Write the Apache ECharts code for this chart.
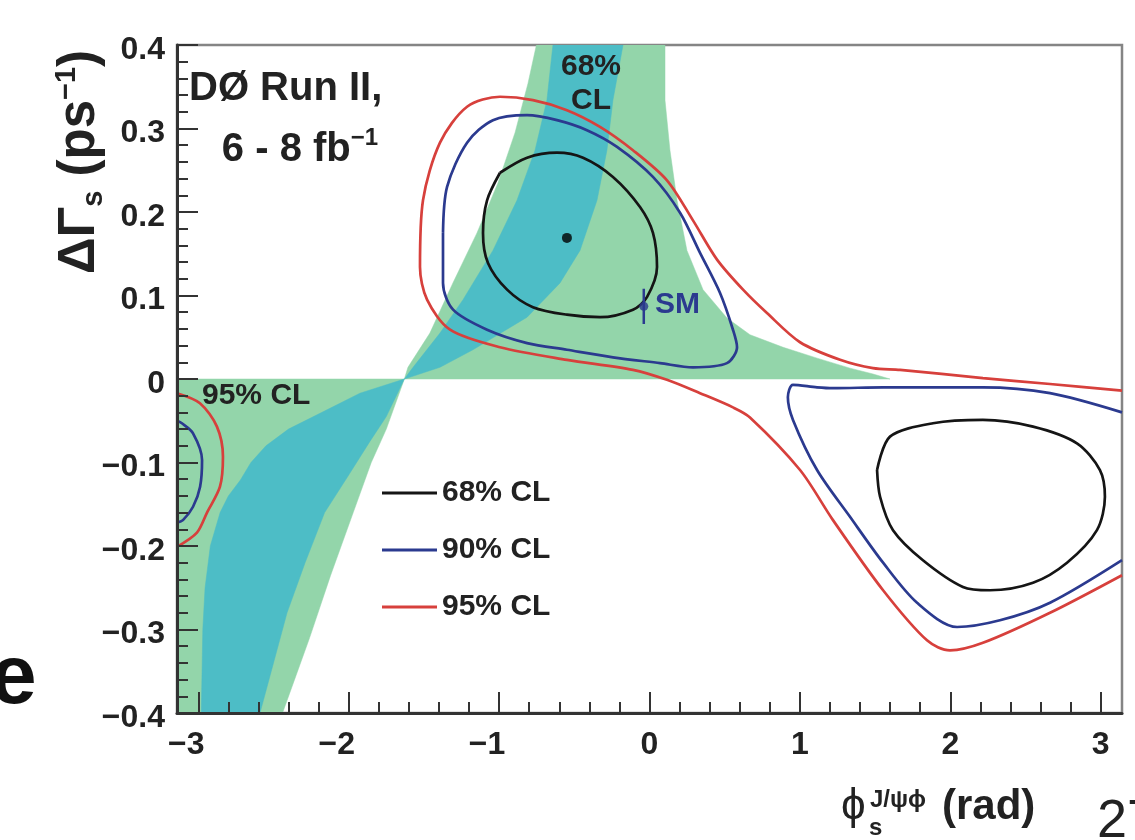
<!DOCTYPE html>
<html>
<head>
<meta charset="utf-8">
<script src="https://cdn.jsdelivr.net/npm/echarts@6/dist/echarts.min.js"></script>
<style>
html,body{margin:0;padding:0;background:#fff;}
#chart{width:1135px;height:840px;}
</style>
</head>
<body>
<div id="chart"></div>
<script>
// ---- tick labels ----
const phiTicks = [-3, -2, -1, 0, 1, 2, 3];
const phiMinorTicks = [-2.8,-2.6,-2.4,-2.2,-1.8,-1.6,-1.4,-1.2,-0.8,-0.6,-0.4,-0.2,0.2,0.4,0.6,0.8,1.2,1.4,1.6,1.8,2.2,2.4,2.6,2.8];
const legendNames = ['68% CL', '90% CL', '95% CL'];

// ---- allowed bands (phi_s, dGamma_s) ----
const greenUpper = [[-1.63,0],[-1.606,0.014],[-1.460,0.055],[-1.307,0.115],[-1.147,0.175],[-1.007,0.235],[-0.894,0.295],[-0.808,0.354],[-0.752,0.4],
  [0.103,0.4],[0.103,0.334],[0.136,0.274],[0.183,0.214],[0.249,0.154],[0.356,0.107],[0.515,0.073],[0.668,0.053],[0.888,0.038],[1.114,0.025],[1.333,0.013],[1.486,0.006],[1.599,0]];
const tealUpper = [[-1.63,0],[-1.572,0.014],[-1.393,0.055],[-1.240,0.095],[-1.041,0.154],[-0.881,0.214],[-0.761,0.274],[-0.682,0.334],[-0.642,0.4],
  [-0.176,0.4],[-0.243,0.334],[-0.283,0.274],[-0.349,0.214],[-0.462,0.154],[-0.595,0.115],[-0.814,0.074],[-1.174,0.035],[-1.393,0.014]];
const greenLower = [[-3.1416,0],[-1.63,0],[-1.75,-0.06],[-1.85,-0.10],[-1.97,-0.16],[-2.12,-0.235],[-2.26,-0.31],[-2.35,-0.355],[-2.44,-0.4],[-3.1416,-0.4]];
const tealLower = [[-1.63,0],[-1.75,-0.045],[-1.86,-0.075],[-2.0,-0.115],[-2.16,-0.16],[-2.29,-0.22],[-2.41,-0.28],[-2.50,-0.34],[-2.59,-0.4],
  [-2.98,-0.4],[-2.97,-0.3],[-2.955,-0.25],[-2.92,-0.2],[-2.855,-0.16],[-2.80,-0.14],[-2.72,-0.121],[-2.65,-0.10],[-2.55,-0.08],[-2.40,-0.06],[-2.19,-0.041],[-1.925,-0.017]];

// ---- likelihood contours ----
const cl68a = [[-0.994,0.247],[-1.080,0.214],[-1.107,0.175],[-1.074,0.139],[-0.947,0.107],[-0.775,0.086],[-0.549,0.077],[-0.329,0.074],[-0.110,0.083],[-0.017,0.098],[0.050,0.134],[0.023,0.175],[-0.063,0.206],[-0.243,0.242],[-0.442,0.265],[-0.615,0.271],[-0.814,0.265],[-0.994,0.247]];
const cl68b = [[1.513,-0.109],[1.599,-0.069],[1.885,-0.053],[2.217,-0.049],[2.550,-0.057],[2.842,-0.077],[2.995,-0.109],[3.028,-0.141],[2.975,-0.181],[2.776,-0.220],[2.550,-0.244],[2.264,-0.253],[2.084,-0.249],[1.818,-0.217],[1.619,-0.181],[1.533,-0.141],[1.513,-0.109]];
const cl90a = [[-1.373,0.175],[-1.346,0.230],[-1.213,0.283],[-1.041,0.310],[-0.814,0.316],[-0.615,0.310],[-0.416,0.298],[-0.216,0.278],[0.023,0.242],[0.203,0.199],[0.336,0.151],[0.469,0.103],[0.555,0.059],[0.582,0.038],[0.515,0.019],[0.289,0.014],[0.070,0.019],[-0.243,0.026],[-0.549,0.035],[-0.814,0.043],[-1.080,0.059],[-1.306,0.083],[-1.373,0.115],[-1.373,0.175]];
const cl90b = [[3.1416,-0.040],[2.663,-0.017],[2.217,-0.010],[1.553,-0.010],[1.220,-0.011],[1.114,-0.010],[0.954,-0.007],[0.920,-0.022],[0.954,-0.049],[1.114,-0.109],[1.333,-0.165],[1.553,-0.220],[1.779,-0.268],[2.045,-0.297],[2.330,-0.289],[2.663,-0.268],[3.1416,-0.217]];
const cl90c = [[-3.1416,-0.050],[-3.109,-0.053],[-3.035,-0.065],[-2.975,-0.097],[-2.988,-0.129],[-3.035,-0.153],[-3.102,-0.169],[-3.1416,-0.172]];
const cl95a = [[3.1416,-0.014],[2.663,-0.006],[2.217,0.001],[1.666,0.011],[1.486,0.013],[1.267,0.023],[1.001,0.044],[0.781,0.079],[0.622,0.107],[0.449,0.143],[0.289,0.190],[0.116,0.238],[-0.110,0.274],[-0.329,0.302],[-0.549,0.322],[-0.775,0.334],[-0.994,0.338],[-1.213,0.326],[-1.393,0.283],[-1.506,0.214],[-1.526,0.134],[-1.479,0.095],[-1.326,0.059],[-0.994,0.038],[-0.549,0.023],[-0.110,0.011],[0.116,-0.001],[0.336,-0.017],[0.555,-0.034],[0.668,-0.046],[1.001,-0.109],[1.220,-0.169],[1.553,-0.253],[1.845,-0.313],[1.998,-0.325],[2.217,-0.316],[2.663,-0.280],[3.1416,-0.235]];
const cl95b = [[-3.1416,-0.017],[-2.989,-0.029],[-2.876,-0.057],[-2.836,-0.093],[-2.856,-0.129],[-2.942,-0.160],[-3.009,-0.184],[-3.1416,-0.201]];

// ---- points ----
const bestFit = [[-0.549, 0.169]];
const smPoint = [[-0.038, 0.087]];
const smErrBar = [[-0.038, 0.066], [-0.038, 0.108]];

const FONT = 'Liberation Sans, Arial, Helvetica, sans-serif';
const FW = 'bold';
const TXT = '#222';
const C_GREEN = '#93d5aa', C_TEAL = '#4dbdc6';
const C_BLACK = '#151515', C_BLUE = '#2b3a8f', C_RED = '#d7403c';

function polySeries(points, color) {
  return {
    type: 'custom', data: points, clip: true, silent: true, z: 1,
    encode: { x: 0, y: 1 },
    itemStyle: { color: color },
    renderItem: function (params, api) {
      if (params.dataIndexInside !== 0) return null;
      const pts = [];
      for (let i = 0; i < params.dataInsideLength; i++) {
        pts.push(api.coord([api.value(0, i), api.value(1, i)]));
      }
      return { type: 'polygon', shape: { points: pts }, style: { fill: color, stroke: color, lineWidth: 0.5 } };
    }
  };
}
function lineSeries(name, points, color) {
  return {
    name: name, type: 'line', data: points, showSymbol: false, smooth: 0.3, z: 3,
    color: color, itemStyle: { color: color },
    lineStyle: { color: color, width: 2.7 }, silent: true, clip: true
  };
}
function fmtNum(v) {
  if (Math.abs(v) < 1e-9) return '0';
  const s = Math.abs(v) < 1 ? Math.abs(v).toFixed(1) : String(Math.round(Math.abs(v)));
  return (v < 0 ? '\u2212' : '') + s;
}
// x labels: digits centred on the tick, minus sign hanging to the left
function fmtX(v) {
  const s = fmtNum(v);
  return v < -1e-9 ? '{n|' + s + '}' : '{p|' + s + '}';
}
// y labels: sit a little below their tick, as in the original
function fmtY(v) { return '{v|' + fmtNum(v) + '}'; }
function txt(x, y, text, size, extra) {
  return Object.assign({ type: 'text', x: x, y: y, z: 10,
    style: { text: text, fontSize: size, fontWeight: FW, fontFamily: FONT, fill: TXT, align: 'left', verticalAlign: 'middle' } }, extra || {});
}
const lblStyle = { fontSize: 32, fontWeight: FW, fontFamily: FONT, color: TXT };

const chart = echarts.init(document.getElementById('chart'), null, { renderer: 'canvas' });
const option = {
  animation: false,
  backgroundColor: '#ffffff',
  textStyle: { fontFamily: FONT },
  grid: { left: 177, right: 13, top: 45, bottom: 127, show: true, borderColor: '#858585', borderWidth: 2.5, backgroundColor: 'transparent' },
  legend: {
    data: legendNames, orient: 'vertical', left: 382, top: 476, padding: 0,
    icon: 'rect', itemWidth: 55, itemHeight: 3, itemGap: 23,
    textStyle: { fontSize: 30, fontWeight: FW, color: TXT, fontFamily: FONT, lineHeight: 34 },
    selectedMode: false
  },
  xAxis: [
    {
      type: 'value', min: -Math.PI, max: Math.PI, z: 5,
      axisLine: { show: true, onZero: false, lineStyle: { color: '#333', width: 3 } },
      axisTick: { show: true, inside: true, length: 21, customValues: phiTicks, lineStyle: { color: '#333', width: 2 } },
      axisLabel: { show: true, customValues: phiTicks, formatter: fmtX, margin: 16, fontSize: 32, fontWeight: FW, color: TXT, fontFamily: FONT,
        rich: { n: Object.assign({ padding: [0, 24, 0, 0] }, lblStyle), p: Object.assign({}, lblStyle) } },
      splitLine: { show: false }
    },
    {
      type: 'value', min: -Math.PI, max: Math.PI, position: 'bottom', z: 5,
      axisLine: { show: false, onZero: false },
      axisTick: { show: true, inside: true, length: 11, customValues: phiMinorTicks, lineStyle: { color: '#333', width: 2 } },
      axisLabel: { show: false },
      splitLine: { show: false }
    }
  ],
  yAxis: {
    type: 'value', min: -0.4, max: 0.4, interval: 0.1, z: 5,
    axisLine: { show: true, onZero: false, lineStyle: { color: '#333', width: 3 } },
    axisTick: { show: true, inside: true, length: 21, lineStyle: { color: '#333', width: 2 } },
    minorTick: { show: true, splitNumber: 5, length: 11, lineStyle: { color: '#333', width: 2 } },
    axisLabel: { formatter: fmtY, fontSize: 32, fontWeight: FW, margin: 12, color: TXT, fontFamily: FONT,
      rich: { v: Object.assign({ padding: [10, 0, 0, 0] }, lblStyle) } },
    splitLine: { show: false }, minorSplitLine: { show: false }
  },
  series: [
    polySeries(greenUpper, C_GREEN),
    polySeries(tealUpper, C_TEAL),
    polySeries(greenLower, C_GREEN),
    polySeries(tealLower, C_TEAL),
    lineSeries('68% CL', cl68a, C_BLACK),
    lineSeries('68% CL', cl68b, C_BLACK),
    lineSeries('90% CL', cl90a, C_BLUE),
    lineSeries('90% CL', cl90b, C_BLUE),
    lineSeries('90% CL', cl90c, C_BLUE),
    lineSeries('95% CL', cl95a, C_RED),
    lineSeries('95% CL', cl95b, C_RED),
    { type: 'line', data: smErrBar, showSymbol: false, z: 4, lineStyle: { color: C_BLUE, width: 2.5 }, silent: true },
    { type: 'scatter', data: smPoint, symbol: 'circle', symbolSize: 9, z: 4, itemStyle: { color: C_BLUE }, silent: true },
    { type: 'scatter', data: bestFit, symbol: 'circle', symbolSize: 10, z: 4, itemStyle: { color: '#000' }, silent: true }
  ],
  graphic: [
    txt(189, 89, 'DØ Run II,', 40),
    { type: 'text', x: 300, y: 150, z: 10, style: { text: '{a|6 - 8 fb}{p|\u22121}', fill: TXT, align: 'center', verticalAlign: 'middle',
        rich: { a: { fontSize: 40, fontWeight: FW, fontFamily: FONT, lineHeight: 48, fill: TXT }, p: { fontSize: 24, fontWeight: FW, fontFamily: FONT, lineHeight: 24, verticalAlign: 'top', fill: TXT } } } },
    { type: 'text', x: 591, y: 84, z: 10, style: { text: '68%\nCL', fontSize: 30, fontWeight: FW, lineHeight: 34, fontFamily: FONT, fill: TXT, align: 'center', verticalAlign: 'middle' } },
    txt(202, 396, '95% CL', 30),
    { type: 'text', x: 655, y: 305, z: 10, style: { text: 'SM', fontSize: 30, fontWeight: FW, fontFamily: FONT, fill: C_BLUE, align: 'left', verticalAlign: 'middle' } },
    { type: 'text', x: 80, y: 162, rotation: Math.PI / 2, z: 10, style: { text: '{a|ΔΓ}{s|s}{a| (ps}{p|\u22121}{a|)}', align: 'center', verticalAlign: 'middle',
        rich: { a: { fontSize: 51, fontWeight: FW, fontFamily: FONT, lineHeight: 56, fill: TXT }, s: { fontSize: 29, fontWeight: FW, fontFamily: FONT, lineHeight: 29, verticalAlign: 'bottom', fill: TXT }, p: { fontSize: 29, fontWeight: FW, fontFamily: FONT, lineHeight: 29, verticalAlign: 'top', fill: TXT } } } },
    { type: 'text', x: 841, y: 807, z: 10, style: { text: 'ϕ', fontSize: 44, fontFamily: FONT, fill: TXT, align: 'left', verticalAlign: 'middle' } },
    txt(870, 800, 'J/ψϕ', 24),
    txt(869, 828, 's', 24),
    txt(942, 807, '(rad)', 42),
    { type: 'text', x: 1097, y: 822, z: 10, style: { text: '27', fontSize: 54, fontFamily: FONT, fill: TXT, align: 'left', verticalAlign: 'middle' } },
    { type: 'text', x: -10, y: 680, z: 10, style: { text: 'e', fontSize: 84, fontWeight: 'bold', fontFamily: FONT, fill: '#111', align: 'left', verticalAlign: 'middle' } }
  ]
};
chart.setOption(option);
</script>
</body>
</html>
